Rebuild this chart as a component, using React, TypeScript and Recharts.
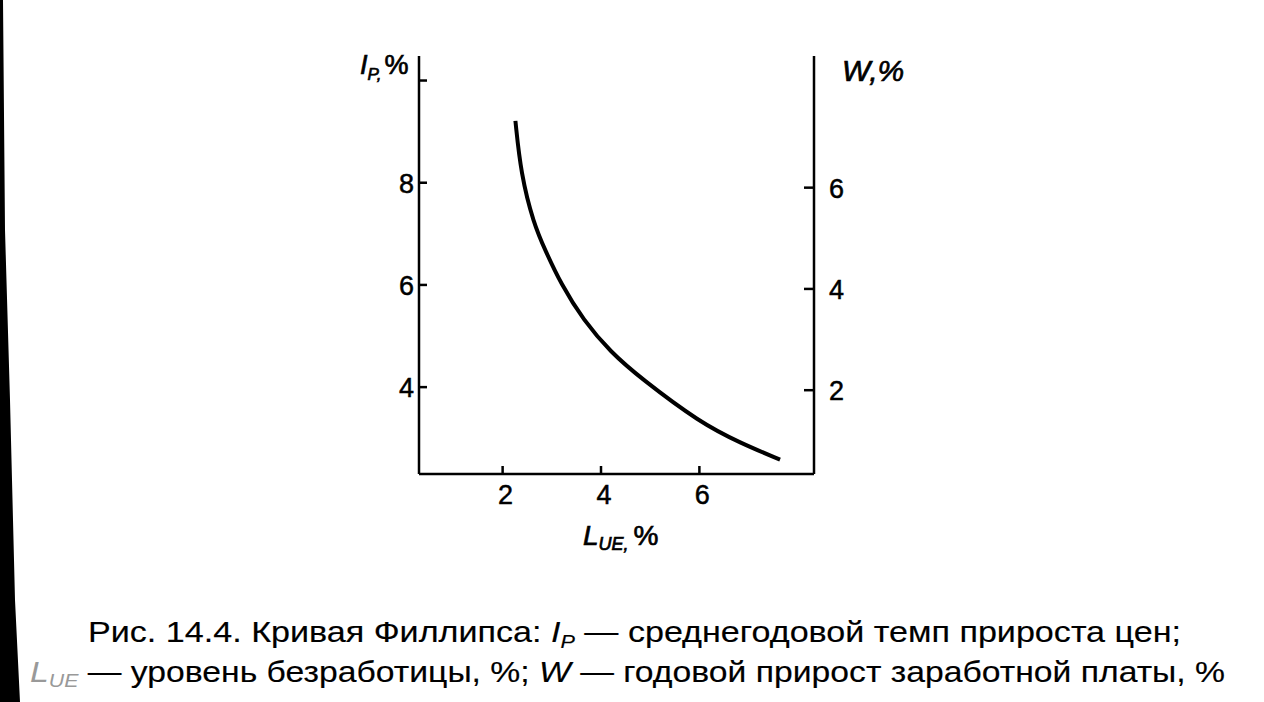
import React from 'react'
import { LineChart, Line, XAxis, YAxis } from 'recharts'

// unemployment level L_UE, % and price growth I_P, %
const unemployment = [2.26, 2.37, 2.63, 2.87, 3.18, 3.64, 4.2, 4.8, 6.02, 6.83, 7.64]
const priceGrowth = [9.21, 8.18, 7.2, 6.67, 6.03, 5.31, 4.68, 4.18, 3.3, 2.91, 2.58]

const xTicks = [2, 4, 6]
const leftTicks = [4, 6, 8, 10]
const rightTicks = [2, 4, 6]
const unlabeledLeft = [10]

const data = unemployment.map((u, i) => ({ u, ip: priceGrowth[i] }))

const FONT = '"Liberation Sans", Arial, sans-serif'
const INK = '#000'

const numStyle = {
  fontFamily: FONT,
  fontSize: 27,
  fill: INK,
  stroke: INK,
  strokeWidth: 0.5,
}

const LeftTick = (props: any) => {
  const { x, y, payload } = props
  return (
    <g>
      <line x1={x} x2={x + 8} y1={y} y2={y} stroke={INK} strokeWidth={2.5} />
      {!unlabeledLeft.includes(payload.value) && (
        <text x={x - 5} y={y} dy={10} textAnchor="end" style={numStyle}>
          {payload.value}
        </text>
      )}
    </g>
  )
}

const RightTick = (props: any) => {
  const { x, y, payload } = props
  return (
    <g>
      <line x1={x - 10} x2={x} y1={y} y2={y} stroke={INK} strokeWidth={2.5} />
      <text x={x + 15} y={y} dy={10} textAnchor="start" style={numStyle}>
        {payload.value}
      </text>
    </g>
  )
}

const BottomTick = (props: any) => {
  const { x, y, payload } = props
  return (
    <g>
      <line x1={x} x2={x} y1={y - 8} y2={y} stroke={INK} strokeWidth={2.5} />
      <text x={x + 3} y={y + 30} textAnchor="middle" style={numStyle}>
        {payload.value}
      </text>
    </g>
  )
}

const titleStyle = {
  fontFamily: FONT,
  fill: INK,
  stroke: INK,
  strokeWidth: 0.7,
}

const captionStyle = {
  fontFamily: FONT,
  fontSize: 30,
  fill: INK,
  stroke: INK,
  strokeWidth: 0.15,
}

export default function App() {
  return (
    <div style={{ position: 'absolute', left: 0, top: 0, width: 1264, height: 702, background: '#fff' }}>
      <LineChart
        width={1264}
        height={702}
        data={data}
        margin={{ top: 56, right: 390, left: 379, bottom: 198 }}
      >
        <XAxis
          dataKey="u"
          type="number"
          domain={[0.3, 8.33]}
          ticks={xTicks}
          allowDataOverflow
          height={30}
          axisLine={{ stroke: INK, strokeWidth: 2.5 }}
          tickLine={false}
          tickSize={0}
          tickMargin={0}
          tick={<BottomTick />}
        />
        <YAxis
          yAxisId="left"
          type="number"
          domain={[2.3, 10.48]}
          ticks={leftTicks}
          allowDataOverflow
          width={40}
          axisLine={{ stroke: INK, strokeWidth: 2.5 }}
          tickLine={false}
          tickSize={0}
          tickMargin={0}
          tick={<LeftTick />}
        />
        <YAxis
          yAxisId="right"
          orientation="right"
          type="number"
          domain={[0.345, 8.6]}
          ticks={rightTicks}
          allowDataOverflow
          width={60}
          axisLine={{ stroke: INK, strokeWidth: 2.5 }}
          tickLine={false}
          tickSize={0}
          tickMargin={0}
          tick={<RightTick />}
        />
        <Line
          yAxisId="left"
          dataKey="ip"
          type="basis"
          stroke={INK}
          strokeWidth={4}
          dot={false}
          isAnimationActive={false}
        />
      </LineChart>

      <svg
        width={1264}
        height={702}
        style={{ position: 'absolute', left: 0, top: 0, pointerEvents: 'none' }}
      >
        {/* dark scan edge */}
        <polygon points="0,0 3,0 5,230 10,400 15,600 20,702 0,702" fill="#000" />

        {/* axis titles */}
        <text x={360} y={74} style={{ ...titleStyle, fontSize: 27 }}>
          <tspan fontStyle="italic">I</tspan>
          <tspan fontStyle="italic" fontSize={17} dy={6}>P,</tspan>
          <tspan dy={-6} dx={3}>%</tspan>
        </text>
        <text x={842} y={81} style={{ ...titleStyle, fontSize: 30 }} fontStyle="italic">
          W,%
        </text>
        <text x={583} y={545} style={{ ...titleStyle, fontSize: 28 }}>
          <tspan fontStyle="italic">L</tspan>
          <tspan fontStyle="italic" fontSize={18} dy={5}>UE,</tspan>
          <tspan dy={-5} dx={5}>%</tspan>
        </text>

        {/* caption */}
        <text x={88} y={642} textLength={1093} lengthAdjust="spacingAndGlyphs" style={captionStyle}>
          <tspan>Рис. 14.4. Кривая Филлипса: </tspan>
          <tspan fontStyle="italic">I</tspan>
          <tspan fontStyle="italic" fontSize={19} dy={6}>P</tspan>
          <tspan dy={-6}> — среднегодовой темп прироста цен;</tspan>
        </text>
        <text x={30} y={682} textLength={1195} lengthAdjust="spacingAndGlyphs" style={captionStyle}>
          <tspan fontStyle="italic" fill="#999" stroke="none">L</tspan>
          <tspan fontStyle="italic" fontSize={19} dy={5} fill="#999" stroke="none">UE</tspan>
          <tspan dy={-5}> — уровень безработицы, %; </tspan>
          <tspan fontStyle="italic">W</tspan>
          <tspan> — годовой прирост заработной платы, %</tspan>
        </text>
      </svg>
    </div>
  )
}
